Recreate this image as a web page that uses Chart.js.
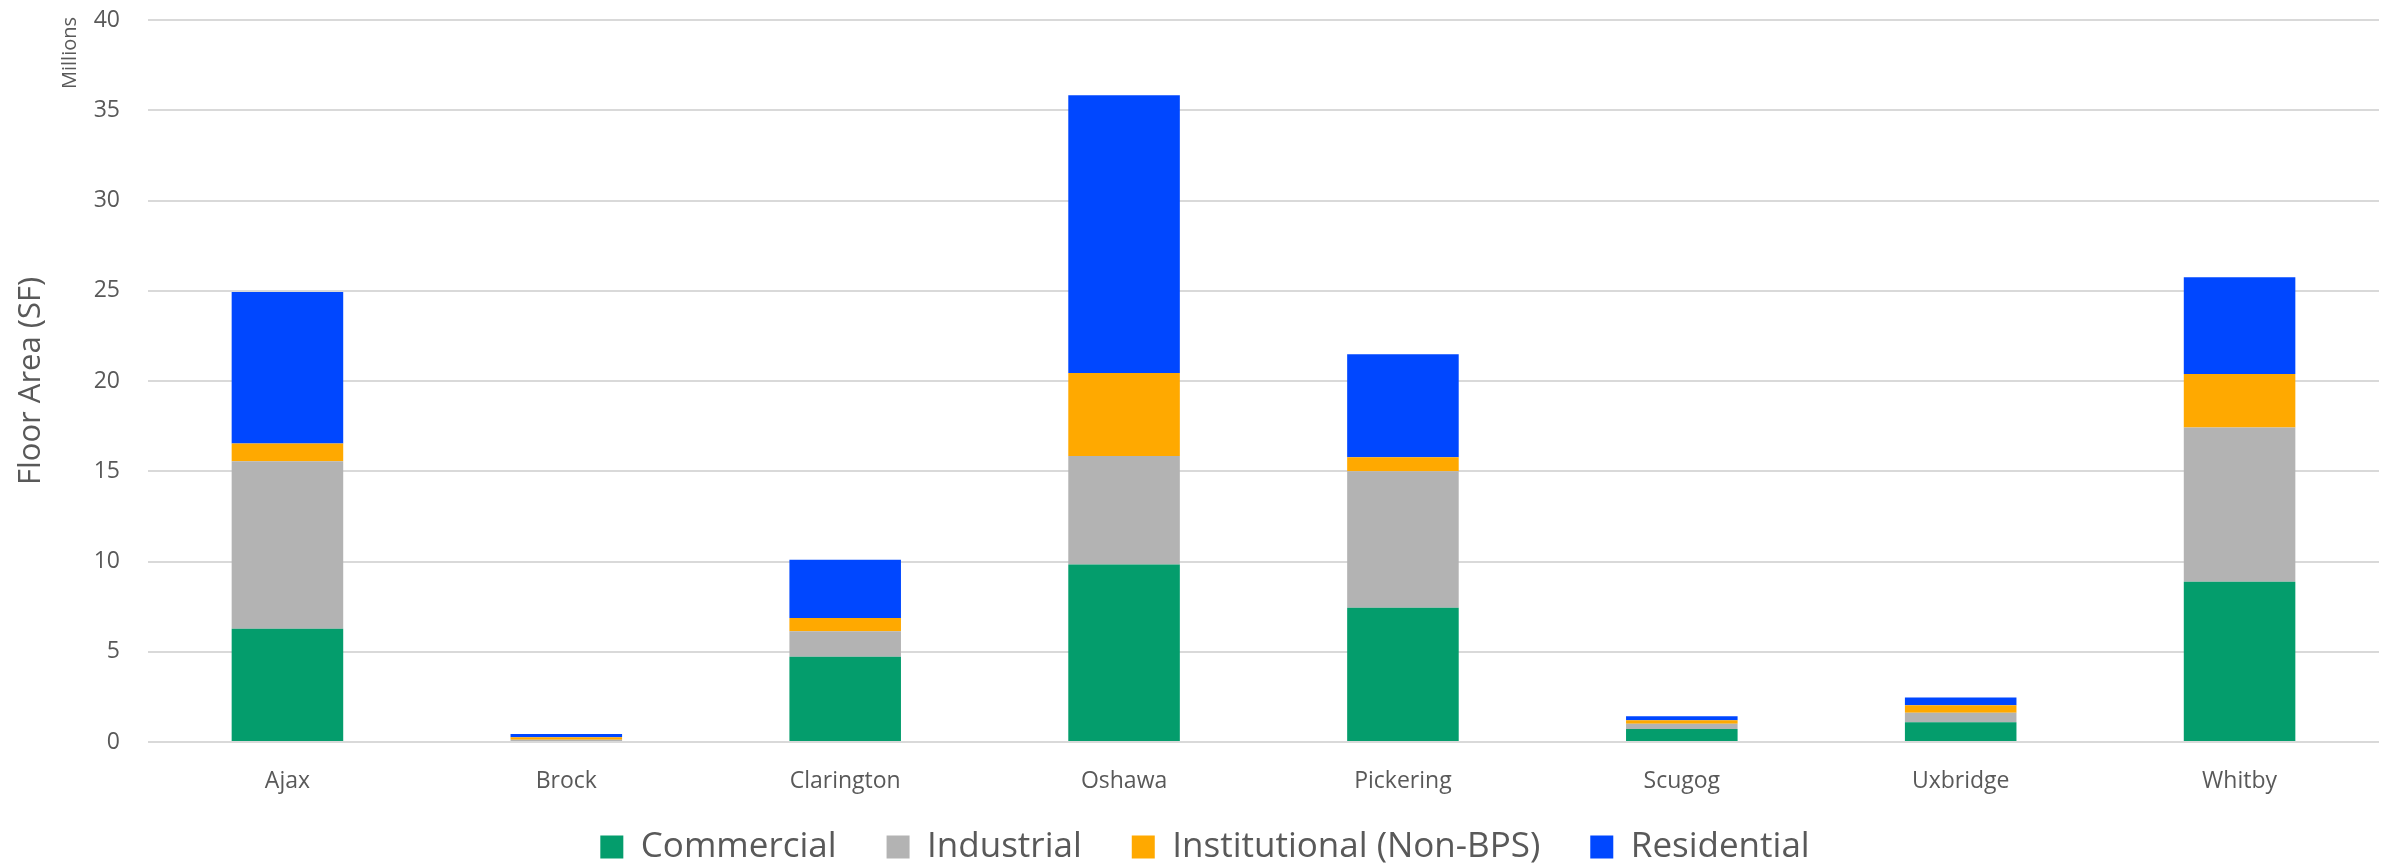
<!DOCTYPE html>
<html>
<head>
<meta charset="utf-8">
<script src="https://cdn.jsdelivr.net/npm/chart.js@4.4.0/dist/chart.umd.min.js"></script>
<style>
    html, body { margin: 0; padding: 0; background: #ffffff; }
    #wrap { width: 2389px; height: 866px; }
</style>
</head>
<body>
<div id="wrap"><canvas id="floorChart"></canvas></div>
<script>
// 지역 (카테고리)
const municipalities = ['Ajax', 'Brock', 'Clarington', 'Oshawa', 'Pickering', 'Scugog', 'Uxbridge', 'Whitby'];

// 건물 유형별 바닥 면적 (백만 SF)
const commercial    = [6.27, 0.06, 4.72, 9.84, 7.44, 0.72, 1.10, 8.88];
const industrial    = [9.29, 0.06, 1.41, 6.01, 7.56, 0.29, 0.52, 8.54];
const institutional = [0.98, 0.14, 0.74, 4.60, 0.78, 0.20, 0.42, 2.97];
const residential   = [8.39, 0.19, 3.23, 15.38, 5.70, 0.22, 0.42, 5.36];

const seriesNames = ['Commercial', 'Industrial', 'Institutional (Non-BPS)', 'Residential'];
const yTicks = [0, 5, 10, 15, 20, 25, 30, 35, 40];

const FONT = "'Open Sans', 'Noto Sans', sans-serif";
const TEXT = '#595959';
const LEGEND_PAD = 50;

// 범례 높이 고정 / 위치 조정 + "Millions" 표시
const layoutTweaks = {
    id: 'layoutTweaks',
    beforeLayout(chart) {
        const lg = chart.legend;
        if (lg && !lg._patched) {
            const fit = lg.fit;
            lg.fit = function() {
                fit.call(this);
                this.height = 64;
            };
            lg._patched = true;
        }
    },
    afterLayout(chart) {
        const lg = chart.legend;
        if (lg) {
            // 글자 중심이 y=847 근처에 오도록
            lg.top = 847 - 17.5 - LEGEND_PAD;
            lg.bottom = chart.height;
            lg.height = lg.bottom - lg.top;
        }
    },
    afterDraw(chart) {
        const ctx = chart.ctx;
        ctx.save();
        ctx.translate(70, chart.chartArea.top + 33);
        ctx.rotate(-Math.PI / 2);
        ctx.font = "20px " + FONT;
        ctx.fillStyle = TEXT;
        ctx.textAlign = 'center';
        ctx.textBaseline = 'middle';
        ctx.fillText('Millions', 0, 0);
        ctx.restore();
    }
};

function makeSet(label, data, color) {
    return {
        label: label,
        data: data,
        backgroundColor: color,
        borderWidth: 0,
        categoryPercentage: 1.0,
        barPercentage: 0.4
    };
}

document.addEventListener('DOMContentLoaded', function() {
    const ctx = document.getElementById('floorChart').getContext('2d');

    new Chart(ctx, {
        type: 'bar',
        data: {
            labels: municipalities,
            datasets: [
                makeSet(seriesNames[0], commercial, '#049D6C'),
                makeSet(seriesNames[1], industrial, '#B3B3B3'),
                makeSet(seriesNames[2], institutional, '#FFA900'),
                makeSet(seriesNames[3], residential, '#0047FF')
            ]
        },
        options: {
            responsive: true,
            maintainAspectRatio: false,
            animation: false,
            layout: { padding: { top: 20, right: 10, left: 31, bottom: 0 } },
            plugins: {
                legend: {
                    position: 'bottom',
                    labels: {
                        boxWidth: 23,
                        boxHeight: 23,
                        padding: LEGEND_PAD,
                        color: TEXT,
                        font: { family: FONT, size: 35 }
                    }
                },
                tooltip: { enabled: false }
            },
            scales: {
                x: {
                    stacked: true,
                    grid: { display: false, drawTicks: false },
                    border: { display: false },
                    ticks: {
                        color: TEXT,
                        padding: 26,
                        font: { family: FONT, size: 23 }
                    },
                    afterFit: function(s) { s.height = 60; }
                },
                y: {
                    stacked: true,
                    min: 0,
                    max: 40,
                    afterBuildTicks: function(s) {
                        s.ticks = yTicks.map(v => ({ value: v }));
                    },
                    grid: {
                        color: '#D9D9D9',
                        lineWidth: 2,
                        drawTicks: true,
                        tickLength: 28,
                        tickColor: 'rgba(0,0,0,0)'
                    },
                    border: { display: false },
                    ticks: {
                        color: TEXT,
                        padding: 0,
                        font: { family: FONT, size: 23 }
                    },
                    title: {
                        display: true,
                        text: 'Floor Area (SF)',
                        color: TEXT,
                        padding: { top: -18, bottom: 0 },
                        font: { family: FONT, size: 31 }
                    },
                    afterFit: function(s) { s.width = 117; }
                }
            }
        },
        plugins: [layoutTweaks]
    });
});
</script>
</body>
</html>
